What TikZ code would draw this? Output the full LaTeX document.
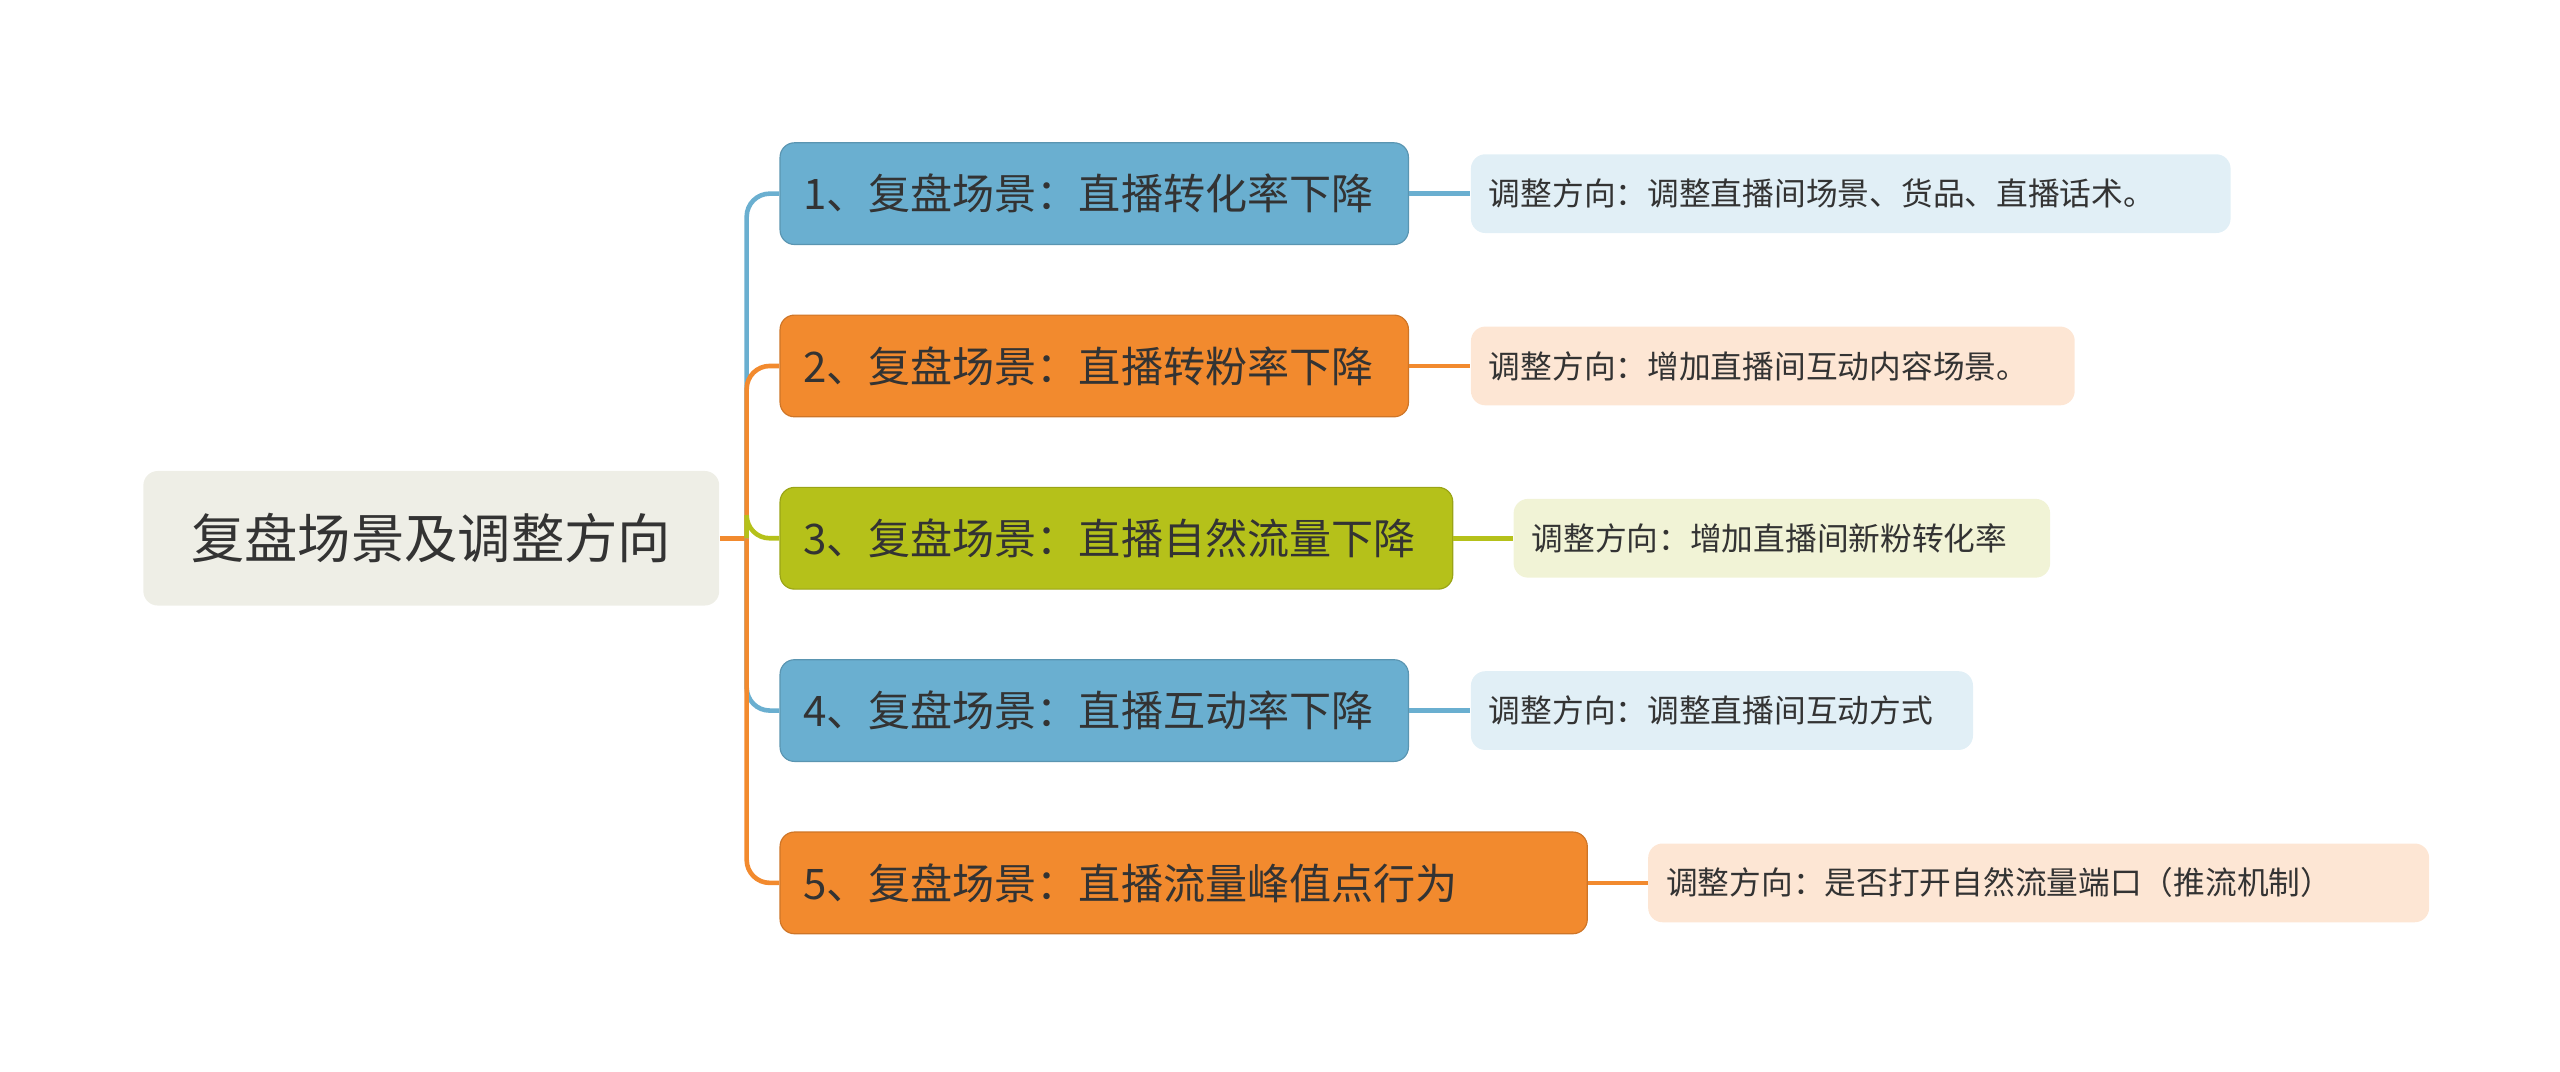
\documentclass[tikz,border=0pt]{standalone}
\usepackage{fontspec}
\setmainfont{Noto Sans CJK SC}
\usetikzlibrary{positioning}
\definecolor{rootbg}{HTML}{EEEEE6}
\definecolor{bblue}{HTML}{6AAFD0}
\definecolor{borange}{HTML}{F28A2E}
\definecolor{bolive}{HTML}{B5C11A}
\definecolor{lblue}{HTML}{E1EFF6}
\definecolor{lorange}{HTML}{FDE6D4}
\definecolor{lolive}{HTML}{F1F3D6}
\definecolor{txt}{HTML}{333333}
\tikzset{
  rootbox/.style={fill=rootbg,rounded corners=5pt,minimum height=1.64cm,minimum width=7.02cm,
    font=\fontsize{18.5}{22}\selectfont,text=txt,anchor=west,inner sep=0pt},
  branchbox/.style={fill=#1,draw=#1!85!black,rounded corners=5pt,minimum height=1.24cm,
    font=\fontsize{14.6}{17}\selectfont,text=txt,anchor=west,inner xsep=0.28cm,align=left},
  leafbox/.style={fill=#1,rounded corners=5pt,minimum height=0.96cm,
    font=\fontsize{11}{13}\selectfont,text=txt,anchor=west,inner xsep=0.22cm,align=left},
  link/.style={draw=#1,line width=1.6pt,rounded corners=8pt}
}
\begin{document}
\begin{tikzpicture}[x=0.02cm,y=-0.02cm]
\useasboundingbox (0,0) rectangle (1560,653);
% root
\node[rootbox] (root) at (87,328) {复盘场景及调整方向};
\coordinate (fork) at (455,328);
\draw[link=borange] (root.east) -- (fork);

% branches
\node[branchbox=bblue,text width=7.1cm] (b1) at (475,118) {1、复盘场景：直播转化率下降};
\node[branchbox=borange,text width=7.1cm] (b2) at (475,223) {2、复盘场景：直播转粉率下降};
\node[branchbox=bolive,text width=7.64cm] (b3) at (475,328) {3、复盘场景：直播自然流量下降};
\node[branchbox=bblue,text width=7.1cm] (b4) at (475,433) {4、复盘场景：直播互动率下降};
\node[branchbox=borange,text width=9.28cm] (b5) at (475,538) {5、复盘场景：直播流量峰值点行为};

% leaves
\node[leafbox=lblue,text width=8.82cm] (l1) at (896,118) {调整方向：调整直播间场景、货品、直播话术。};
\node[leafbox=lorange,text width=6.92cm] (l2) at (896,223) {调整方向：增加直播间互动内容场景。};
\node[leafbox=lolive,text width=6.1cm] (l3) at (922,328) {调整方向：增加直播间新粉转化率};
\node[leafbox=lblue,text width=5.68cm] (l4) at (896,433) {调整方向：调整直播间互动方式};
\node[leafbox=lorange,text width=9.08cm] (l5) at (1004,538) {调整方向：是否打开自然流量端口（推流机制）};

% connectors
\foreach \b/\c in {1/bblue,2/borange,3/bolive,4/bblue,5/borange}{
  \draw[link=\c] (fork) |- (b\b.west);
  \draw[link=\c] (b\b.east) -- (l\b.west);
}
\end{tikzpicture}
\end{document}
